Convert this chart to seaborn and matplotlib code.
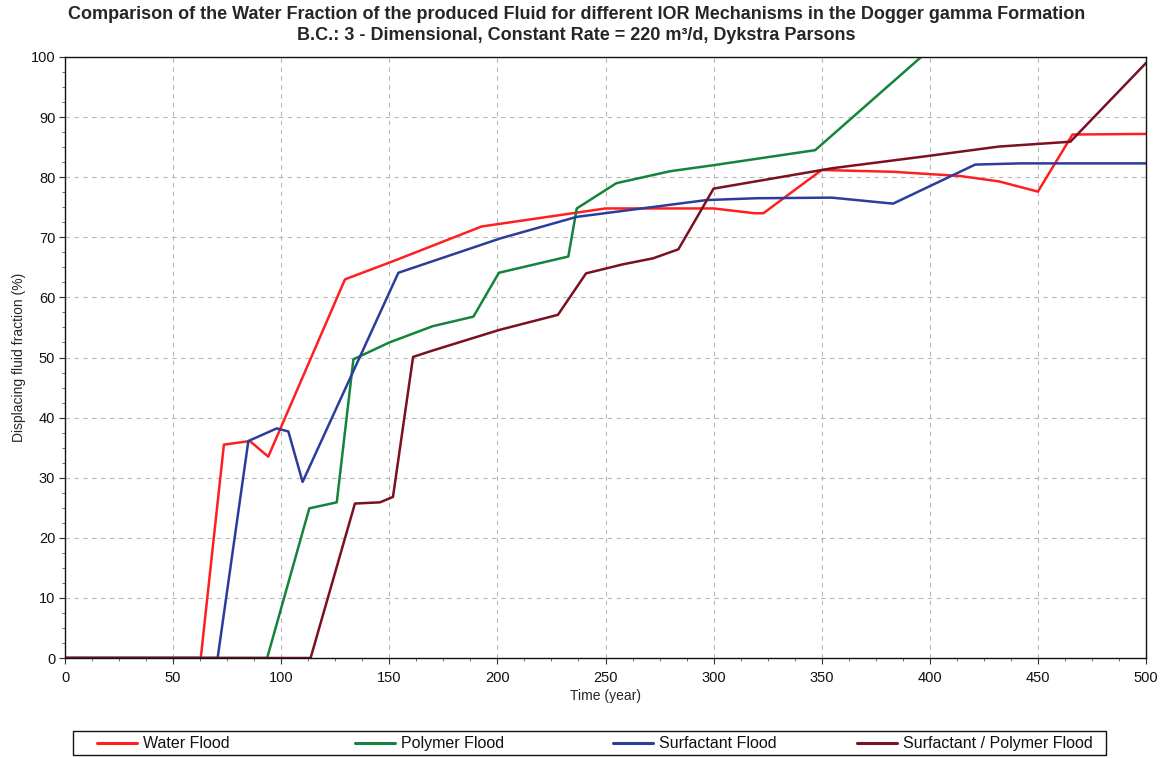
import numpy as np
import pandas as pd
import matplotlib
matplotlib.use("Agg")
import matplotlib.pyplot as plt
from matplotlib.ticker import MultipleLocator
from matplotlib.patches import Rectangle
from matplotlib.lines import Line2D
import seaborn as sns

# Water fraction of produced fluid (%) over time (years) for each IOR mechanism
water_t = [0, 62.8, 73.5, 85.5, 94, 129.5, 153, 192.7, 250, 300, 319, 323, 350, 383, 414, 432, 450, 466, 500]
water_f = [0, 0, 35.5, 36.1, 33.5, 63, 66.2, 71.8, 74.8, 74.8, 74.0, 74.0, 81.2, 80.9, 80.2, 79.3, 77.6, 87.1, 87.2]

polymer_t = [0, 93.5, 113, 125.7, 133.4, 150, 170, 188.9, 200.7, 232.8, 236.7, 255, 280, 300, 347, 396]
polymer_f = [0, 0, 24.9, 25.9, 49.7, 52.5, 55.2, 56.8, 64.1, 66.8, 74.8, 79, 81, 82, 84.5, 100]

surf_t = [0, 70.6, 84.8, 97.9, 103.3, 109.9, 154.2, 201.2, 236.7, 296.8, 320, 354.6, 383, 421, 441.7, 500]
surf_f = [0, 0, 36.1, 38.2, 37.7, 29.3, 64.1, 69.8, 73.4, 76.2, 76.5, 76.6, 75.6, 82.1, 82.3, 82.3]

sp_t = [0, 113.6, 134.1, 145.7, 151.7, 161, 170.4, 201, 228, 241, 258, 272, 283.7, 300, 355, 398.5, 432, 465, 500]
sp_f = [0, 0, 25.7, 25.9, 26.8, 50.1, 51.2, 54.6, 57.1, 64, 65.5, 66.5, 68, 78.1, 81.5, 83.5, 85.1, 85.9, 99]

series_names = ["Water Flood", "Polymer Flood", "Surfactant Flood", "Surfactant / Polymer Flood"]
series_colors = ["#ff1f1f", "#14843c", "#2b3d9c", "#7a1020"]

frames = []
for name, t, f in zip(series_names,
                      [water_t, polymer_t, surf_t, sp_t],
                      [water_f, polymer_f, surf_f, sp_f]):
    frames.append(pd.DataFrame({"time": t, "fraction": f, "mechanism": name}))
df = pd.concat(frames, ignore_index=True)

sns.set_theme(style="white")
plt.rcParams["font.family"] = ["Liberation Sans", "DejaVu Sans"]

W, H = 1170, 758
fig = plt.figure(figsize=(W / 100, H / 100), dpi=100)
ax = fig.add_axes([65 / W, 1 - 658 / H, (1146 - 65) / W, (658 - 57) / H])

sns.lineplot(data=df, x="time", y="fraction", hue="mechanism", units="mechanism",
             estimator=None, sort=False, palette=dict(zip(series_names, series_colors)),
             linewidth=1.8, ax=ax, legend=False)

ax.set_xlim(0, 500)
ax.set_ylim(0, 100)
ax.xaxis.set_major_locator(MultipleLocator(50))
ax.xaxis.set_minor_locator(MultipleLocator(12.5))
ax.yaxis.set_major_locator(MultipleLocator(10))
ax.yaxis.set_minor_locator(MultipleLocator(2.5))
ax.tick_params(which="major", direction="out", length=4, width=0.8, color="#333333",
               labelsize=10.5, labelcolor="#111111", bottom=True, left=True)
ax.tick_params(axis="x", which="major", pad=5)
ax.tick_params(axis="y", which="major", pad=3)
ax.tick_params(which="minor", direction="out", length=2.5, width=0.6, color="#555555",
               bottom=True, left=True)
ax.grid(True, which="major", color="#b8b8b8", linestyle=(0, (4, 4)), linewidth=0.8)
for side in ax.spines.values():
    side.set_color("#111111")
    side.set_linewidth(1.0)

ax.set_xlabel("Time (year)", fontsize=10, labelpad=3)
ax.set_ylabel("Displacing fluid fraction (%)", fontsize=10, labelpad=3)

fig.text(0.4925, 1 - 19 / H,
         "Comparison of the Water Fraction of the produced Fluid for different IOR Mechanisms in the Dogger gamma Formation",
         ha="center", va="baseline", fontsize=13, fontweight="bold")
fig.text(0.4925, 1 - 40 / H,
         "B.C.: 3 - Dimensional, Constant Rate = 220 m³/d, Dykstra Parsons",
         ha="center", va="baseline", fontsize=13, fontweight="bold")

# Legend: framed strip below the plot with four evenly placed entries
fig.patches.append(Rectangle((73 / W, 1 - 755 / H), (1106 - 73) / W, 24 / H,
                             transform=fig.transFigure, fill=False,
                             edgecolor="#111111", linewidth=1.0))
entry_x = [97, 355, 613, 857]
for name, color, x in zip(series_names, series_colors, entry_x):
    fig.add_artist(Line2D([x / W, (x + 40) / W], [1 - 743 / H, 1 - 743 / H],
                          transform=fig.transFigure, color=color, linewidth=2.2))
    fig.text((x + 46) / W, 1 - 748 / H, name, ha="left", va="baseline",
             fontsize=11.5, color="#111111")

fig.savefig("out.png", dpi=100)
